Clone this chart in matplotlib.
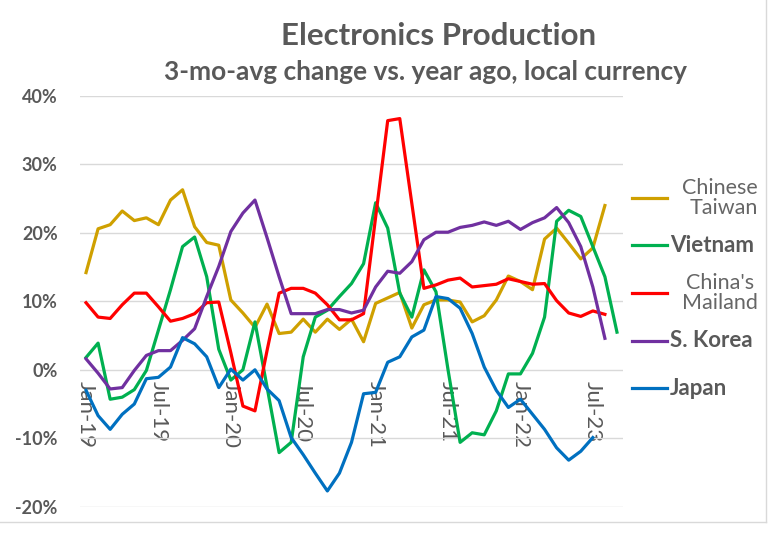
import matplotlib
matplotlib.use("Agg")
import matplotlib.pyplot as plt
import numpy as np
from matplotlib import font_manager
from matplotlib.lines import Line2D

# monthly categories Jan-19 .. Sep-22 (45 points), values in % (3-mo-avg, y/y)
N_MONTHS = 45
tick_pos = [0, 6, 12, 18, 24, 30, 36, 42]
tick_labels = ["Jan-19", "Jul-19", "Jan-20", "Jul-20", "Jan-21", "Jul-21", "Jan-22", "Jul-23"]

taiwan = [14.2, 20.6, 21.2, 23.2, 21.8, 22.2, 21.2, 24.8, 26.3, 20.9, 18.6, 18.2,
          10.2, 8.3, 6.2, 9.6, 5.3, 5.5, 7.4, 5.5, 7.4, 5.9, 7.4, 4.1,
          9.7, 10.5, 11.3, 6.1, 9.5, 10.2, 10.2, 9.9, 7.0, 7.9, 10.2, 13.7,
          12.9, 11.7, 19.1, 20.7, 18.5, 16.2, 17.8, 24.0]
vietnam = [1.8, 3.9, -4.3, -4.0, -2.9, -0.1, 5.8, 11.7, 18.0, 19.4, 13.6, 3.0,
           -1.5, 0.0, 7.0, -2.5, -12.1, -10.6, 1.9, 7.7, 8.7, 10.7, 12.6, 15.5,
           24.4, 20.7, 11.2, 7.7, 14.6, 11.4, 0.0, -10.6, -9.2, -9.5, -6.0, -0.6,
           -0.6, 2.4, 7.7, 21.7, 23.3, 22.4, 18.0, 13.6, 5.5]
mainland = [9.8, 7.7, 7.5, 9.5, 11.2, 11.2, 9.2, 7.1, 7.5, 8.2, 9.8, 9.9,
            2.5, -5.3, -6.0, 2.8, 11.2, 11.9, 11.9, 11.2, 9.5, 7.3, 7.3, 8.2,
            22.3, 36.4, 36.7, 24.3, 11.9, 12.4, 13.1, 13.4, 12.1, 12.3, 12.5, 13.3,
            12.9, 12.5, 12.6, 10.1, 8.3, 7.8, 8.6, 8.1]
korea = [1.6, -0.5, -2.8, -2.6, -0.1, 2.1, 2.8, 2.8, 4.3, 6.0, 10.7, 15.1,
         20.2, 22.9, 24.8, 19.3, 13.6, 8.2, 8.2, 8.2, 8.8, 8.8, 8.3, 8.7,
         12.1, 14.4, 14.1, 15.8, 19.0, 20.1, 20.1, 20.8, 21.1, 21.6, 21.1, 21.7,
         20.5, 21.5, 22.2, 23.7, 21.5, 18.0, 12.1, 4.6]
japan = [-3.0, -6.7, -8.7, -6.5, -5.0, -1.3, -1.1, 0.4, 4.7, 3.8, 1.9, -2.6,
         0.1, -1.5, 0.0, -2.8, -4.5, -9.9, -12.4, -15.1, -17.7, -15.1, -10.6, -3.5,
         -3.3, 1.1, 1.9, 4.8, 5.8, 10.7, 10.4, 9.0, 5.3, 0.4, -3.0, -5.5,
         -4.3, -6.5, -8.7, -11.4, -13.2, -11.9, -9.9]

series = [
    ("Chinese\nTaiwan", taiwan, "#CFA000"),
    ("Vietnam", vietnam, "#00B050"),
    ("China's\nMailand", mainland, "#FF0000"),
    ("S. Korea", korea, "#7030A0"),
    ("Japan", japan, "#0070C0"),
]

GRAY = "#595959"
W, H = 774, 534

names = {f.name for f in font_manager.fontManager.ttflist}
NARROW = "Liberation Sans Narrow" if "Liberation Sans Narrow" in names else "Lato"
plt.rcParams["font.family"] = ["Lato", "DejaVu Sans"]


def px(x, y):
    return x / W, 1 - y / H


fig = plt.figure(figsize=(W / 100, H / 100), dpi=100)
ax = fig.add_axes([80 / W, 1 - 506.7 / H, 543 / W, (506.7 - 96) / H])

for label, vals, color in series:
    ax.plot(np.arange(len(vals)), vals, color=color, lw=2.3, solid_joinstyle="round")

ax.set_xlim(-0.5, N_MONTHS - 0.5)
ax.set_ylim(-20, 40)
ax.set_yticks(range(-20, 41, 10))
ax.set_yticklabels([f"{v}%" for v in range(-20, 41, 10)])
ax.yaxis.grid(True, color="#D9D9D9", lw=1.0)
ax.set_axisbelow(True)
for s in ["top", "right", "left"]:
    ax.spines[s].set_visible(False)
ax.spines["bottom"].set_position(("data", 0))
ax.spines["bottom"].set_visible(False)
ax.set_xticks(tick_pos)
ax.set_xticklabels(tick_labels, rotation=270, ha="center", va="top")
ax.tick_params(axis="x", length=0, pad=8, labelsize=16, labelcolor=GRAY)
ax.tick_params(axis="y", length=0, pad=16, labelsize=13, labelcolor=GRAY)
for t in ax.get_yticklabels():
    t.set_fontweight("bold")

fig.text(*px(439, 36), "Electronics Production", ha="center", va="center",
         fontsize=22.5, fontweight="bold", color=GRAY)
fig.text(*px(426, 72), "3-mo-avg change vs. year ago, local currency", ha="center",
         va="center", fontsize=18.9, fontweight="bold", color=GRAY)

# legend drawn at right
leg_y = [197.5, 245, 292.7, 340.7, 388.3]
for (label, vals, color), y in zip(series, leg_y):
    fig.add_artist(Line2D([632 / W, 667 / W], [1 - y / H] * 2, color=color, lw=2.3))
    if "\n" in label:
        fig.text(*px(720, y), label, ha="center", va="center", multialignment="right"
                 if label.startswith("Chinese") else "center",
                 fontsize=15.5, color="#666666", family=[NARROW, "DejaVu Sans"],
                 linespacing=1.0)
    else:
        fig.text(*px(670, y), label, ha="left", va="center", fontsize=16,
                 fontweight="bold", color=GRAY)

# chart border
fig.add_artist(Line2D([0, 766 / W], [1 - 522 / H] * 2, color="#D9D9D9", lw=1))
fig.add_artist(Line2D([766 / W] * 2, [1 - 522 / H, 1], color="#D9D9D9", lw=1))

fig.savefig("out.png", dpi=100)
